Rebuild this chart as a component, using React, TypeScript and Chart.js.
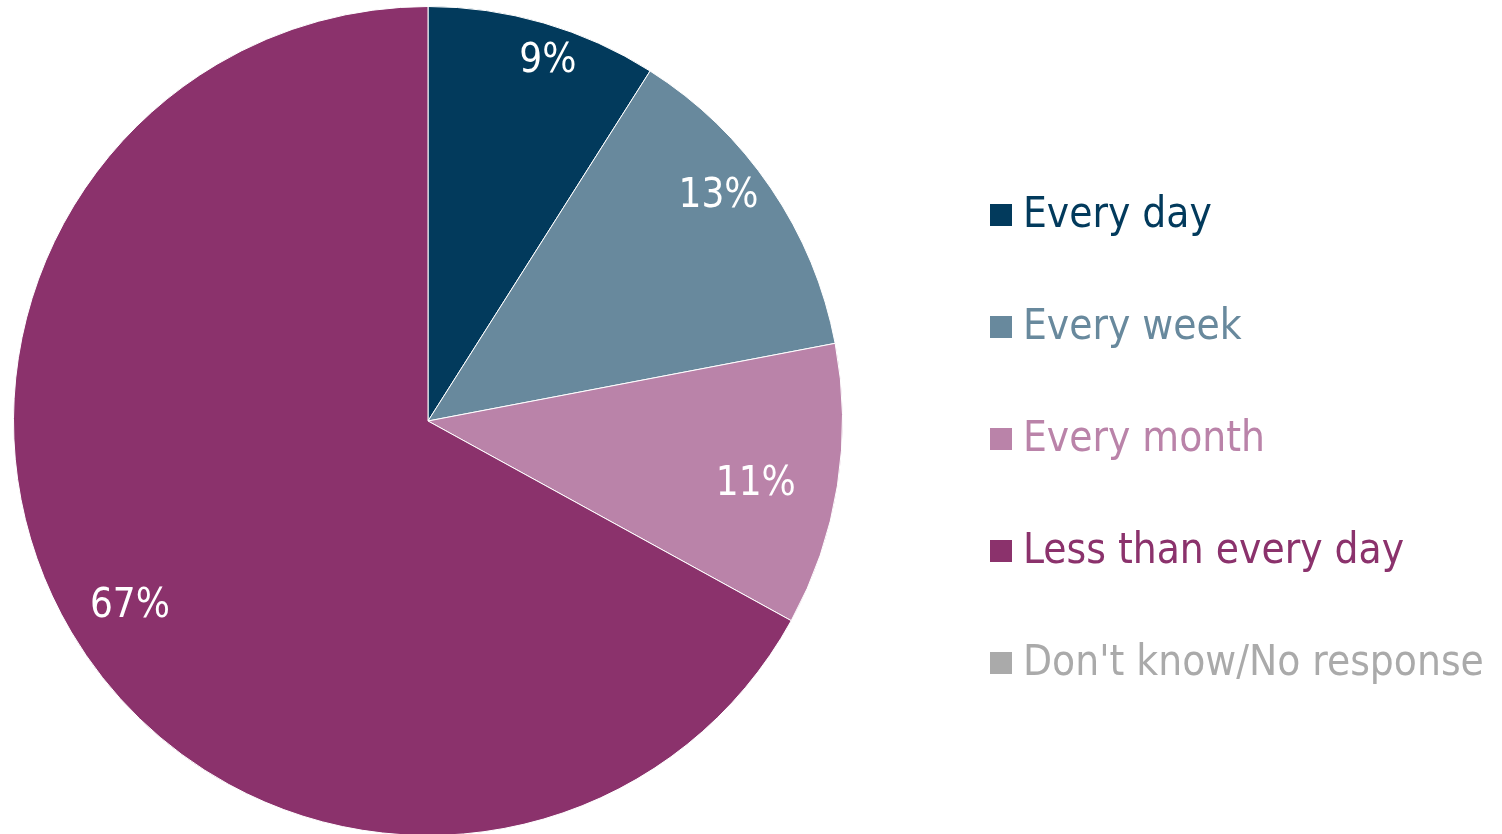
import React, { useEffect, useRef } from "react";
import { Chart, registerables } from "chart.js";

Chart.register(...registerables);

const categories = ["Every day", "Every week", "Every month", "Less than every day", "Don't know/No response"];
const values = [9, 13, 11, 67, 0];
const valueLabels = ["9%", "13%", "11%", "67%", ""];
const colors = ["#023a5c", "#68899d", "#ba83a9", "#8b326c", "#aaaaaa"];
// label placement style (fraction of radius, angular shift in degrees)
const labelRadius = [0.916, 0.887, 0.805, 0.846, 0.8];
const labelShift = [2.2, -3.6, 1.8, -1.2, 0];

const FONT = "'DejaVu Sans Condensed', 'DejaVu Sans', Tahoma, Verdana, sans-serif";

const labelPlugin = {
  id: "sliceLabels",
  afterDatasetsDraw(chart: any) {
    const ctx = chart.ctx;
    const meta = chart.getDatasetMeta(0);
    ctx.save();
    ctx.fillStyle = "#ffffff";
    ctx.font = `40px ${FONT}`;
    ctx.textAlign = "center";
    ctx.textBaseline = "middle";
    meta.data.forEach((arc: any, i: number) => {
      const text = valueLabels[i];
      if (!text) return;
      const { x, y, startAngle, endAngle, outerRadius } = arc.getProps(["x", "y", "startAngle", "endAngle", "outerRadius"], true);
      const mid = (startAngle + endAngle) / 2 + (labelShift[i] * Math.PI) / 180;
      const r = outerRadius * labelRadius[i];
      ctx.fillText(text, x + Math.cos(mid) * r, y + Math.sin(mid) * r + 1);
    });
    ctx.restore();
  },
};

const legendPlugin = {
  id: "customLegend",
  afterDraw(chart: any) {
    const ctx = chart.ctx;
    ctx.save();
    ctx.font = `42px ${FONT}`;
    ctx.textBaseline = "middle";
    ctx.textAlign = "left";
    const x0 = 990;
    const y0 = 215;
    const step = 112;
    categories.forEach((c, i) => {
      const y = y0 + i * step;
      ctx.fillStyle = colors[i];
      ctx.fillRect(x0, y - 11, 22, 22);
      ctx.fillText(c, x0 + 33, y + 1);
    });
    ctx.restore();
  },
};

export default function App() {
  const ref = useRef<HTMLCanvasElement>(null);
  useEffect(() => {
    if (!ref.current) return;
    const chart = new Chart(ref.current, {
      type: "pie",
      data: {
        labels: categories,
        datasets: [
          {
            data: values,
            backgroundColor: colors,
            borderColor: "#ffffff",
            borderWidth: 1,
          },
        ],
      },
      options: {
        animation: false,
        responsive: false,
        maintainAspectRatio: false,
        layout: { padding: { top: 6, bottom: 6, left: 13, right: 659 } },
        plugins: { legend: { display: false }, tooltip: { enabled: false } },
      },
      plugins: [labelPlugin, legendPlugin],
    });
    return () => chart.destroy();
  }, []);
  return (
    <div style={{ position: "fixed", left: 0, top: 0, width: 1502, height: 834, overflow: "hidden", background: "#fff" }}>
      <canvas ref={ref} width={1502} height={842} style={{ position: "absolute", left: 0, top: 0 }} />
    </div>
  );
}
